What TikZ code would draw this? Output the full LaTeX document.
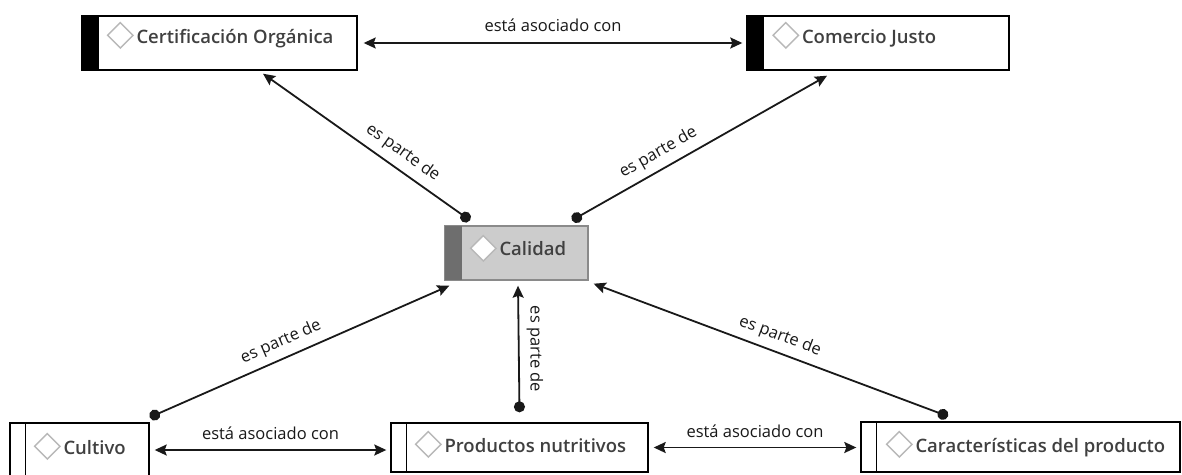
\documentclass[tikz,border=0pt]{standalone}
\usepackage{fontspec}
\setmainfont{Open Sans}
\newfontfamily\titlefont{Open Sans Semibold}
\usetikzlibrary{arrows.meta,calc,shapes.geometric}

\definecolor{boxtext}{HTML}{404040}
\definecolor{icongray}{HTML}{B8B8B8}
\definecolor{calfill}{HTML}{CCCCCC}
\definecolor{calbar}{HTML}{6E6E6E}
\definecolor{calborder}{HTML}{8A8A8A}

\tikzset{
  concept/.style={draw=black, line width=1.4pt, rectangle, inner sep=0pt, fill=white},
  icon/.style={diamond, draw=icongray, line width=1.4pt, inner sep=0pt,
               minimum width=26pt, minimum height=26pt, fill=white},
  title/.style={anchor=base west, inner sep=0pt, text=boxtext,
                font=\titlefont\fontsize{18.5}{22}\selectfont},
  rel/.style={line width=1.8pt, draw=black!90,
              {Circle[length=11pt]}-{Stealth[length=12pt,width=11pt,inset=2pt]}},
  assoc/.style={line width=1.8pt, draw=black!90,
              {Stealth[length=12pt,width=11pt,inset=2pt]}-{Stealth[length=12pt,width=11pt,inset=2pt]}},
  lbl/.style={font=\fontsize{16.5}{19}\selectfont, text=black!90, inner sep=2pt},
}

\begin{document}
\begin{tikzpicture}[x=1pt,y=-1pt]
\useasboundingbox (0,0) rectangle (1182,474);
\clip (0,0) rectangle (1182,474);
\fill[white] (0,0) rectangle (1182,474);

% top row
\node[concept, minimum width=275pt, minimum height=54pt] (cert) at (219.5,43) {};
\fill[black] (cert.north west) rectangle ($(cert.south west)+(18,0)$);
\draw[line width=1.4pt] (cert.north west) rectangle (cert.south east);
\node[icon] (certicon) at ($(cert.north west)+(39,20)$) {};
\node[title] (certtext) at ($(certicon.center)+(16,8)$) {Certificación Orgánica};

\node[concept, minimum width=262pt, minimum height=54pt] (com) at (878,43) {};
\fill[black] (com.north west) rectangle ($(com.south west)+(18,0)$);
\draw[line width=1.4pt] (com.north west) rectangle (com.south east);
\node[icon] (comicon) at ($(com.north west)+(39.5,20)$) {};
\node[title] (comtext) at ($(comicon.center)+(16,8)$) {Comercio Justo};

% centre
\node[concept, draw=calborder, fill=calfill, minimum width=143pt, minimum height=54pt] (cal) at (516.5,253) {};
\fill[calbar] (cal.north west) rectangle ($(cal.south west)+(18,0)$);
\draw[calborder, line width=1.4pt] (cal.north west) rectangle (cal.south east);
\node[icon] (calicon) at ($(cal.north west)+(39,23)$) {};
\node[title] (caltext) at ($(calicon.center)+(16,7)$) {Calidad};

% bottom row
\node[concept, minimum width=139pt, minimum height=56pt] (cult) at (79.5,451) {};
\draw[line width=1.4pt] ($(cult.north west)+(16,0)$) -- ($(cult.south west)+(16,0)$);
\node[icon] (culticon) at ($(cult.north west)+(38,24)$) {};
\node[title] (culttext) at ($(culticon.center)+(16,8)$) {Cultivo};

\node[concept, minimum width=257pt, minimum height=49pt] (prod) at (519.5,447.5) {};
\draw[line width=1.4pt] ($(prod.north west)+(16,0)$) -- ($(prod.south west)+(16,0)$);
\node[icon] (prodicon) at ($(prod.north west)+(38,22)$) {};
\node[title] (prodtext) at ($(prodicon.center)+(16,8)$) {Productos nutritivos};

\node[concept, minimum width=319pt, minimum height=50pt] (car) at (1020.5,447) {};
\draw[line width=1.4pt] ($(car.north west)+(16,0)$) -- ($(car.south west)+(16,0)$);
\node[icon] (caricon) at ($(car.north west)+(39,23)$) {};
\node[title] (cartext) at ($(caricon.center)+(16,8)$) {Características del producto};

% part-of relations
\draw[rel] ($(cal.north)+(-46.5,-5)$) -- node[lbl, sloped, above=5pt, pos=0.37] {es parte de} ($(cert.south)+(43.5,3)$);
\draw[rel] ($(cal.north)+(55.5,-5)$) -- node[lbl, sloped, above=5pt, pos=0.37] {es parte de} ($(com.south)+(-51,5)$);
\draw[rel] ($(cult.north east)+(0,-5)$) -- node[lbl, sloped, above=5pt, pos=0.46] {es parte de} ($(cal.south west)+(5,5)$);
\draw[rel] ($(prod.north)+(0,-10)$) -- ($(cal.south)+(1.5,5)$)
  node[lbl, rotate=-90, above=5pt, pos=0.5] {es parte de};
\draw[rel] ($(car.north)+(-72.5,-5)$) -- node[lbl, sloped, above=5pt, pos=0.49] {es parte de} ($(cal.south east)+(5,3)$);

% associations
\draw[assoc] ($(cert.east)+(6,0)$) -- node[lbl, above=8pt] {está asociado con} ($(com.west)+(-4,0)$);
\draw[assoc] ($(cult.east)+(5,-1)$) -- node[lbl, above=7pt] {está asociado con} ($(prod.west |- cult.east)+(-4,-1)$);
\draw[assoc] ($(prod.east)+(5,0)$) -- node[lbl, above=7pt] {está asociado con} ($(car.west |- prod.east)+(-4,0)$);
\end{tikzpicture}
\end{document}
